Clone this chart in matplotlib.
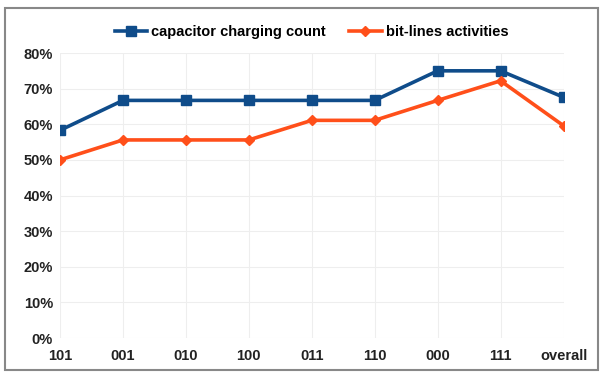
import matplotlib

matplotlib.use("Agg")
import matplotlib.pyplot as plt
from matplotlib.patches import Rectangle
from matplotlib.ticker import FuncFormatter

categories = ["101", "001", "010", "100", "011", "110", "000", "111", "overall"]
capacitor = [58.3, 66.7, 66.7, 66.7, 66.7, 66.7, 75.0, 75.0, 67.6]
bitlines = [50.0, 55.6, 55.6, 55.6, 61.1, 61.1, 66.7, 72.2, 59.6]

plt.rcParams.update({"font.family": ["Liberation Sans", "DejaVu Sans"],
                     "font.size": 10})

fig = plt.figure(figsize=(6.03, 3.76), dpi=100)
ax = fig.add_axes([0.0995, 0.101, 0.835, 0.758])

x = list(range(len(categories)))
ax.plot(x, capacitor, "s-", color="#0f4c8a", lw=2.6, ms=7,
        label="capacitor charging count")
ax.plot(x, bitlines, "D-", color="#ff4f1a", lw=2.6, ms=5,
        label="bit-lines activities")

ax.set_xlim(0, len(categories) - 1)
ax.set_ylim(0, 80)
ax.set_yticks(range(0, 81, 10))
ax.yaxis.set_major_formatter(FuncFormatter(lambda v, _: f"{v:.0f}%"))
ax.set_xticks(x)
ax.set_xticklabels(categories)
ax.grid(axis="both", color="#eeeeee", lw=0.8)
ax.set_axisbelow(True)
for s in ax.spines.values():
    s.set_visible(False)
ax.tick_params(axis="x", length=0, labelsize=10.5, pad=8)
ax.tick_params(axis="y", length=0, labelsize=10.5, pad=5)
for lab in ax.get_xticklabels() + ax.get_yticklabels():
    lab.set_fontweight("bold")
    lab.set_color("#222222")

ax.legend(loc="center", bbox_to_anchor=(0.5, 1.075), ncol=2, frameon=False,
          prop={"weight": "bold", "size": 10.5}, handlelength=2.2,
          columnspacing=1.6, handletextpad=0.3)

fig.patches.append(Rectangle((0.008, 0.015), 0.984, 0.965, transform=fig.transFigure,
                             fill=False, edgecolor="#888888", lw=1.5))

fig.savefig("out.png", dpi=100)
